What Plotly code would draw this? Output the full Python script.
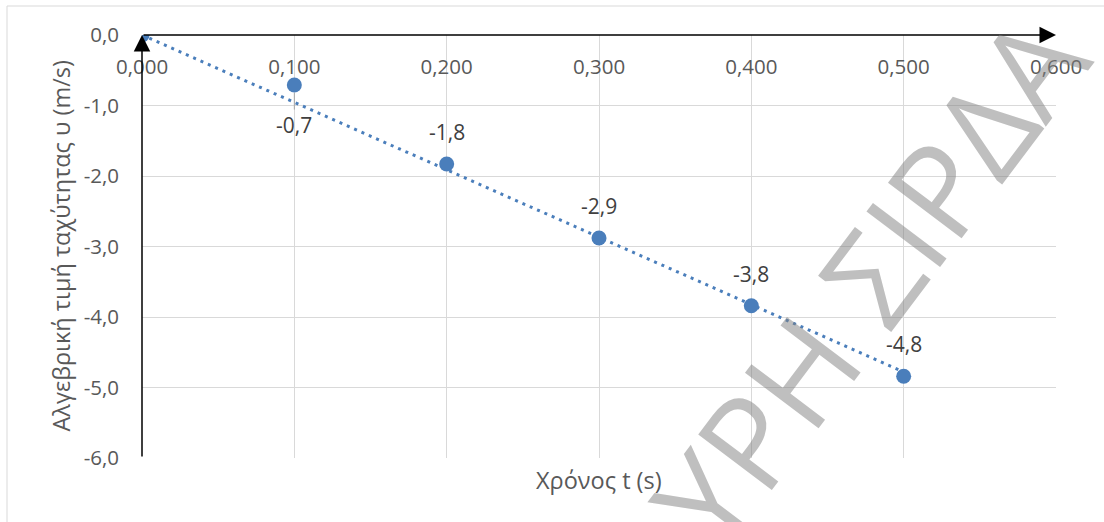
import numpy as np
import plotly.graph_objects as go

# ---------------- data ----------------
t_values = [0.0, 0.1, 0.2, 0.3, 0.4, 0.5]
v_values = [0.0, -0.71, -1.83, -2.88, -3.84, -4.84]
show_label = [False, True, True, True, True, True]
label_below = [False, True, False, False, False, False]
x_tick_vals = [0.0, 0.1, 0.2, 0.3, 0.4, 0.5, 0.6]
y_tick_vals = [0, -1, -2, -3, -4, -5, -6]
x_tick_text = ["0,000", "0,100", "0,200", "0,300", "0,400", "0,500", "0,600"]
y_tick_text = ["0,0", "-1,0", "-2,0", "-3,0", "-4,0", "-5,0", "-6,0"]
x_title = "Χρόνος t (s)"
y_title = "Αλγεβρική τιμή ταχύτητας υ (m/s)"
watermark_text = "ΥΡΗ ΣΙΡΔΑ"

# ---------------- styling constants ----------------
W, H = 1104, 522
ML, MR, MT, MB = 142, 48, 35, 64
PW, PH = W - ML - MR, H - MT - MB
BLUE = "#4A7EBB"
GRID = "#D9D9D9"
TICK_COLOR = "#595959"
LABEL_COLOR = "#404040"
FONT = "Open Sans"

t = np.array(t_values)
v = np.array(v_values)
# linear trendline through the origin (Excel-style, intercept fixed at 0)
slope = float((t * v).sum() / (t * t).sum())
trend_x = [float(t.min()), float(t.max())]
trend_y = [slope * x for x in trend_x]

fig = go.Figure()

fig.add_trace(go.Scatter(
    x=trend_x, y=trend_y, mode="lines",
    line=dict(color=BLUE, width=3, dash="3px,5px"),
    hoverinfo="skip", showlegend=False,
))
fig.add_trace(go.Scatter(
    x=t_values, y=v_values, mode="markers",
    marker=dict(color=BLUE, size=15, line=dict(width=0)),
    showlegend=False,
))

annotations = []
# data labels
for x, y, show, below in zip(t_values, v_values, show_label, label_below):
    if not show:
        continue
    txt = f"{y:.1f}".replace(".", ",")
    if below:
        annotations.append(dict(
            x=x, y=y, xref="x", yref="y", text=txt,
            showarrow=True, arrowhead=0, arrowwidth=1, arrowcolor="#A6A6A6",
            ax=0, ay=40, standoff=8,
            font=dict(family=FONT, size=21, color=LABEL_COLOR),
        ))
    else:
        annotations.append(dict(
            x=x, y=y, xref="x", yref="y", text=txt, showarrow=False,
            yshift=32, font=dict(family=FONT, size=21, color=LABEL_COLOR),
        ))

# axis lines with arrowheads
x_min, x_max = min(x_tick_vals), max(x_tick_vals)
y_min, y_max = min(y_tick_vals), max(y_tick_vals)
annotations.append(dict(
    x=x_max, y=0, ax=x_min, ay=0, xref="x", yref="y", axref="x", ayref="y",
    text="", showarrow=True, arrowhead=2, arrowsize=2.2, arrowwidth=1.5,
    arrowcolor="black",
))
annotations.append(dict(
    x=0, y=y_max, ax=0, ay=y_min, xref="x", yref="y", axref="x", ayref="y",
    text="", showarrow=True, arrowhead=2, arrowsize=2.2, arrowwidth=1.5,
    arrowcolor="black",
))

# axis titles
annotations.append(dict(
    x=0.5, y=0, xref="paper", yref="paper", yanchor="middle", yshift=-22,
    text=x_title, showarrow=False,
    font=dict(family=FONT, size=23.5, color=TICK_COLOR),
))
annotations.append(dict(
    x=0, y=0.5, xref="paper", yref="paper", xanchor="center", xshift=-82,
    text=y_title, showarrow=False, textangle=-90,
    font=dict(family=FONT, size=23.5, color=TICK_COLOR),
))

# watermark
annotations.append(dict(
    x=0.4768, y=-3.46, xref="x", yref="y", text=watermark_text,
    showarrow=False, textangle=-53,
    font=dict(family=FONT, size=129, color="rgba(128,128,128,0.5)", weight=500),
))

fig.update_layout(
    width=W, height=H,
    margin=dict(l=ML, r=MR, t=MT, b=MB, pad=0),
    paper_bgcolor="white", plot_bgcolor="white",
    font=dict(family=FONT, color=TICK_COLOR),
    xaxis=dict(
        range=[x_min, x_max], tickvals=x_tick_vals, ticktext=x_tick_text,
        showgrid=True, gridcolor=GRID, gridwidth=1, zeroline=False,
        showline=False, ticks="", anchor="free", position=1, side="bottom",
        ticklabelstandoff=17,
        tickfont=dict(family=FONT, size=20.5, color=TICK_COLOR),
    ),
    yaxis=dict(
        range=[y_min, y_max], tickvals=y_tick_vals, ticktext=y_tick_text,
        showgrid=True, gridcolor=GRID, gridwidth=1, zeroline=False,
        showline=False, ticks="", ticklabelstandoff=22,
        tickfont=dict(family=FONT, size=20.5, color=TICK_COLOR),
    ),
    shapes=[dict(
        type="rect", xref="paper", yref="paper",
        x0=-(ML - 7) / PW, x1=1.3, y0=-0.4, y1=1 + (MT - 6) / PH,
        line=dict(color=GRID, width=1), fillcolor="rgba(0,0,0,0)", layer="below",
    )],
    annotations=annotations,
)

fig.write_html(
    "out.html",
    config={"displayModeBar": False},
    post_script="document.body.style.margin='0';document.body.style.padding='0';",
)
